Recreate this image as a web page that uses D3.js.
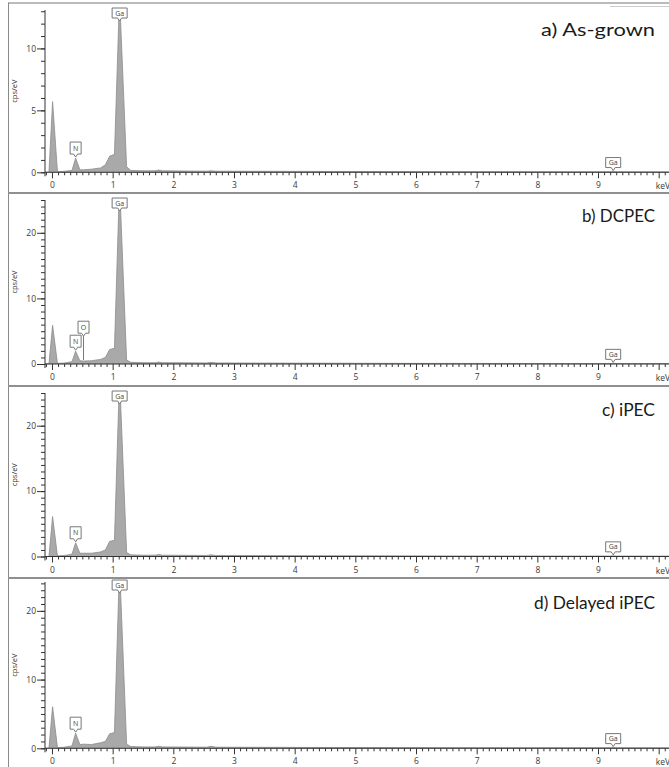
<!DOCTYPE html>
<html>
<head>
<meta charset="utf-8">
<script src="https://cdn.jsdelivr.net/npm/d3@7"></script>
<style>
  body { margin: 0; background: #fff; }
  svg { display: block; }
  .tick text { font-family: "Open Sans", sans-serif; font-size: 8.5px; fill: #3a3a3a; }
  .tick line { stroke: #333; }
</style>
</head>
<body>
<svg id="chart" width="669" height="767"></svg>
<script>
// energies (keV) shared by every spectrum
var energies = [-0.12, -0.05, 0.01, 0.09, 0.2, 0.33, 0.39, 0.46, 0.52, 0.65, 0.8, 0.88, 0.95, 1.03,
  1.105, 1.125, 1.23, 1.3, 1.5, 1.7, 1.76, 1.82, 2.2, 2.55, 2.62, 2.7, 3.5, 4.5, 5.5, 6.5, 7.5,
  8.5, 9.2, 9.25, 9.3, 10.2];

// counts (cps/eV)
var countsA = [0, 0, 5.7, 0.05, 0.08, 0.15, 1.15, 0.2, 0.2, 0.25, 0.35, 0.6, 1.3, 1.45,
  12.9, 12.9, 0.45, 0.15, 0.12, 0.12, 0.18, 0.12, 0.1, 0.09, 0.12, 0.09, 0.08, 0.07, 0.06, 0.05, 0.05,
  0.04, 0.04, 0.06, 0.04, 0.03];
var countsB = [0, 0, 5.9, 0.1, 0.15, 0.35, 1.95, 0.5, 0.45, 0.5, 0.7, 1.0, 2.2, 2.4,
  25, 25, 0.6, 0.25, 0.2, 0.2, 0.3, 0.2, 0.18, 0.16, 0.25, 0.16, 0.14, 0.12, 0.1, 0.09, 0.08,
  0.07, 0.07, 0.1, 0.07, 0.06];
var countsC = [0, 0, 6.1, 0.1, 0.15, 0.35, 2.1, 0.5, 0.5, 0.5, 0.7, 1.0, 2.3, 2.5,
  25, 25, 0.6, 0.25, 0.2, 0.2, 0.3, 0.2, 0.18, 0.16, 0.25, 0.16, 0.14, 0.12, 0.1, 0.09, 0.08,
  0.07, 0.07, 0.1, 0.07, 0.06];
var countsD = [0, 0, 6.05, 0.1, 0.15, 0.35, 2.2, 0.55, 0.6, 0.55, 0.8, 1.0, 2.1, 2.3,
  24.2, 24.2, 0.6, 0.25, 0.2, 0.2, 0.3, 0.2, 0.18, 0.16, 0.3, 0.16, 0.14, 0.12, 0.1, 0.09, 0.08,
  0.07, 0.07, 0.1, 0.07, 0.06];

var panelTitles = ["a) As-grown", "b) DCPEC", "c) iPEC", "d) Delayed iPEC"];
var xTickValues = [0, 1, 2, 3, 4, 5, 6, 7, 8, 9];
var yTicksA = [0, 5, 10];
var yTicksB = [0, 10, 20];
var yMaxes = [13.1, 25, 25, 24.2];

var peaksA = [{el: "N", e: 0.39}, {el: "Ga", e: 1.115}, {el: "Ga", e: 9.25}];
var peaksB = [{el: "N", e: 0.39}, {el: "O", e: 0.52}, {el: "Ga", e: 1.115}, {el: "Ga", e: 9.25}];

var svg = d3.select("#chart");
var W = 669;

// panel frames: [frame top, axis top, zero line, title baseline, title width]
var layout = [[3, 10, 172.3, 36, 114], [193, 200, 364, 222, 73],
  [386, 393, 556.5, 416, 53], [578, 582, 748.3, 609, 121]];
var seriesList = [countsA, countsB, countsC, countsD];
var yTickList = [yTicksA, yTicksB, yTicksB, yTicksB];
var peakList = [peaksA, peaksB, peaksA, peaksA];

var x = d3.scaleLinear().domain([-0.115, 10.17]).range([45, 669]);

// left frame line
svg.append("line").attr("x1", 8.5).attr("x2", 8.5).attr("y1", 3).attr("y2", 767)
  .attr("stroke", "#8a8a8a").attr("stroke-width", 1);
svg.append("line").attr("x1", 610).attr("x2", 669).attr("y1", 6.5).attr("y2", 6.5)
  .attr("stroke", "#ccc").attr("stroke-width", 1);

layout.forEach(function(L, i){
  var top = L[0], yTop = L[1], y0 = L[2];
  var g = svg.append("g");
  var y = d3.scaleLinear().domain([0, yMaxes[i]]).range([y0, yTop]);

  // separator
  g.append("line").attr("x1", 8).attr("x2", W).attr("y1", top).attr("y2", top)
    .attr("stroke", i == 0 ? "#777" : "#909090").attr("stroke-width", i == 0 ? 1 : 2);

  // spectrum
  var pts = energies.map(function(e, k){ return [e, seriesList[i][k]]; });
  var clipId = "clip" + i;
  g.append("clipPath").attr("id", clipId).append("rect")
    .attr("x", 45).attr("y", yTop).attr("width", W - 45).attr("height", y0 - yTop);
  var area = d3.area().x(function(d){ return x(d[0]); }).y0(y0).y1(function(d){ return y(d[1]); });
  g.append("path").datum(pts).attr("d", area).attr("clip-path", "url(#" + clipId + ")")
    .attr("fill", "#a9a9a9").attr("stroke", "#8c8c8c").attr("stroke-width", 0.8);

  // x axis
  var minor = d3.range(-1, 102).map(function(k){ return k / 10; })
    .filter(function(v){ return v >= -0.1 && v <= 10.16 && Math.abs(v - Math.round(v)) > 0.01; });
  g.append("g").attr("transform", "translate(0," + y0 + ")")
    .call(d3.axisBottom(x).tickValues(minor).tickSize(3).tickFormat(""))
    .call(function(a){ a.select(".domain").remove(); });
  var xa = g.append("g").attr("transform", "translate(0," + y0 + ")")
    .call(d3.axisBottom(x).tickValues(xTickValues.concat([10])).tickSize(6).tickFormat(d3.format("d")))
    .call(function(a){ a.select(".domain").remove(); });
  xa.selectAll("text").attr("y", 10).filter(function(d){ return d == 10; }).remove();
  g.append("line").attr("x1", 45).attr("x2", W).attr("y1", y0).attr("y2", y0)
    .attr("stroke", "#333").attr("stroke-width", 1);
  g.append("text").attr("x", 670).attr("y", y0 + 17).attr("text-anchor", "end")
    .attr("font-family", "Open Sans, sans-serif").attr("font-size", 8.5).attr("fill", "#3a3a3a")
    .text("keV");

  // y axis
  var yMinor = d3.range(0, Math.floor(yMaxes[i]) + 1);
  g.append("g").attr("transform", "translate(45,0)")
    .call(d3.axisLeft(y).tickValues(yMinor).tickSize(4).tickFormat(""))
    .call(function(a){ a.select(".domain").remove(); });
  var ya = g.append("g").attr("transform", "translate(45,0)")
    .call(d3.axisLeft(y).tickValues(yTickList[i]).tickSize(8).tickFormat(d3.format("d")))
    .call(function(a){ a.select(".domain").remove(); });
  ya.selectAll("text").attr("x", -9);
  g.append("line").attr("x1", 45).attr("x2", 45).attr("y1", yTop).attr("y2", y0 + 4)
    .attr("stroke", "#333").attr("stroke-width", 1);

  g.append("text")
    .attr("transform", "translate(17," + ((yTop + y0) / 2) + ") rotate(-90)")
    .attr("text-anchor", "middle").attr("font-family", "Open Sans, sans-serif")
    .attr("font-size", 7.5).attr("fill", "#333").text("cps/eV");

  // panel title
  g.append("text").attr("x", 655).attr("y", L[3]).attr("text-anchor", "end")
    .attr("font-family", "Lato, sans-serif").attr("font-size", 17.5).attr("fill", "#1a1a1a")
    .attr("textLength", L[4]).attr("lengthAdjust", "spacingAndGlyphs")
    .text(panelTitles[i]);

  // peak markers
  var prev = null;
  peakList[i].forEach(function(p){
    var k = d3.bisectLeft(energies, p.e);
    var lo = k > 0 ? k - 1 : 0;
    var t = (p.e - energies[lo]) / ((energies[k] - energies[lo]) || 1);
    var cnt = seriesList[i][lo] + (seriesList[i][k] - seriesList[i][lo]) * t;
    var cx = x(p.e);
    var tip = Math.max(y(cnt) - 1, yTop);
    var bw = p.el.length > 1 ? 15 : 11, bh = p.el.length > 1 ? 10 : 12;
    var bottom = tip - 3;
    if (prev && Math.abs(prev.cx - cx) < (prev.bw + bw) / 2 + 1) bottom = Math.min(bottom, prev.top - 2);
    var boxTop = bottom - bh;
    if (boxTop < yTop - 2) { boxTop = yTop - 2; bottom = boxTop + bh; }
    var m = g.append("g");
    if (tip > bottom + 3) {
      m.append("line").attr("x1", cx).attr("x2", cx).attr("y1", bottom + 3).attr("y2", tip)
        .attr("stroke", "#777").attr("stroke-width", 1);
    }
    m.append("path")
      .attr("d", "M" + (cx - bw / 2) + "," + boxTop + "H" + (cx + bw / 2) + "V" + bottom +
        "H" + (cx + 2) + "L" + cx + "," + (bottom + 3) + "L" + (cx - 2) + "," + bottom +
        "H" + (cx - bw / 2) + "Z")
      .attr("fill", "#fff").attr("stroke", "#777").attr("stroke-width", 1);
    m.append("text").attr("x", cx).attr("y", boxTop + bh / 2 + 2.5).attr("text-anchor", "middle")
      .attr("font-family", "Open Sans, sans-serif").attr("font-size", 7).attr("fill", "#444")
      .text(p.el);
    prev = {cx: cx, bw: bw, top: boxTop};
  });
});
</script>
</body>
</html>
